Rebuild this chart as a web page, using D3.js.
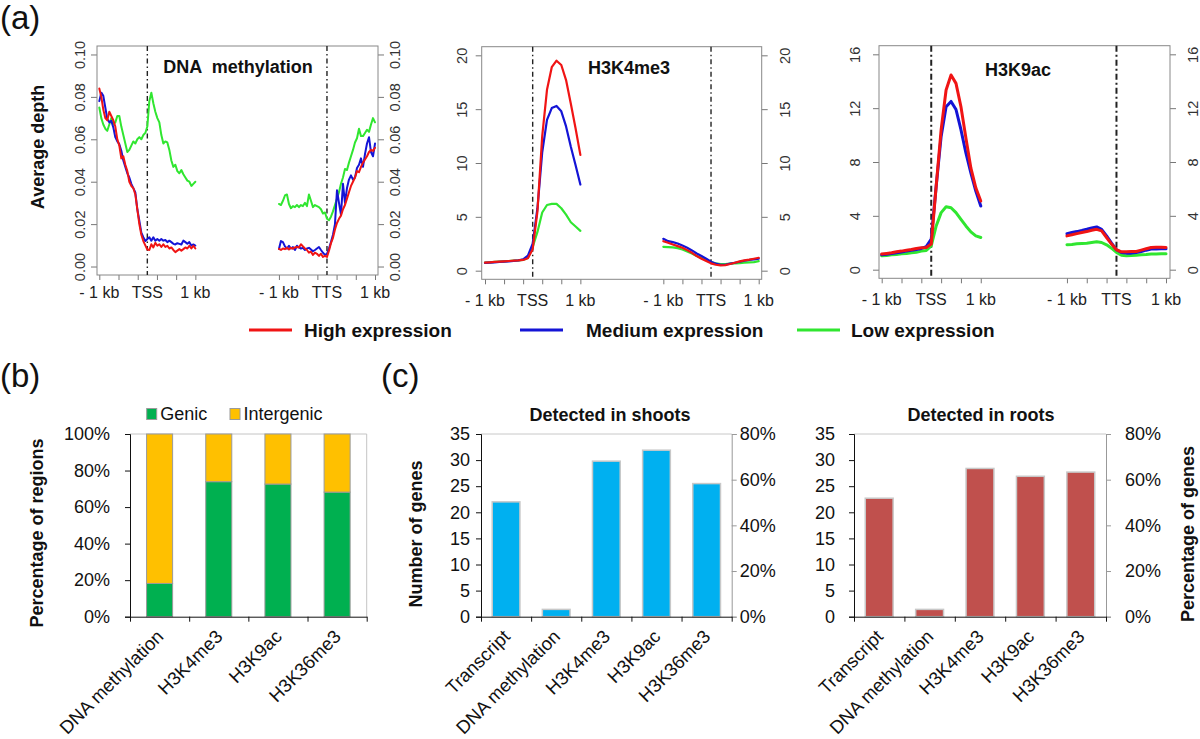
<!DOCTYPE html>
<html><head><meta charset="utf-8">
<script src="https://cdn.jsdelivr.net/npm/d3@7"></script>
<style>
body{margin:0;background:#fff;}
svg{display:block;}
text{font-family:"Liberation Sans",Arial,Helvetica,sans-serif;}
</style>
</head><body>
<svg id="c" width="1200" height="739"></svg>
<script>
// ---------------- DATA ----------------
// Panel (a): average depth profiles, -1 kb .. +1 kb around TSS and TTS
const methHighTSS = [0.084,0.080,0.074,0.070,0.069,0.073,0.071,0.069,0.066,0.060,0.057,0.051,0.052,0.048,0.045,0.040,0.038,0.037,0.034,0.027,0.020,0.015,0.012,0.010,0.008,0.0078,0.0105,0.009,0.0112,0.0098,0.0105,0.0092,0.0105,0.0092,0.0098,0.0085,0.009,0.0078,0.0068,0.0075,0.0082,0.0075,0.0082,0.009,0.0085,0.0098,0.0085,0.0098,0.0085];
const methMedTSS = [0.078,0.082,0.0805,0.075,0.0695,0.068,0.0687,0.0656,0.061,0.059,0.0577,0.0546,0.050,0.047,0.044,0.042,0.039,0.037,0.035,0.027,0.0216,0.016,0.0138,0.012,0.013,0.0138,0.0122,0.0138,0.0122,0.013,0.0122,0.013,0.0122,0.0125,0.0115,0.0122,0.0115,0.0107,0.0104,0.011,0.0107,0.0104,0.0122,0.0115,0.0107,0.0115,0.0099,0.0104,0.0099];
const methLowTSS = [0.075,0.070,0.067,0.065,0.064,0.067,0.070,0.067,0.068,0.071,0.071,0.066,0.062,0.058,0.054,0.055,0.057,0.059,0.058,0.060,0.061,0.060,0.062,0.063,0.066,0.078,0.082,0.077,0.073,0.070,0.068,0.062,0.058,0.059,0.0585,0.055,0.050,0.047,0.048,0.045,0.044,0.0455,0.0435,0.042,0.0405,0.040,0.038,0.039,0.040];
const methHighTTS = [0.0083,0.0078,0.0085,0.0082,0.0088,0.0080,0.0088,0.0084,0.0090,0.0092,0.0090,0.0105,0.0095,0.0085,0.0078,0.0065,0.0070,0.0055,0.0065,0.0060,0.0050,0.0060,0.0045,0.0050,0.0045,0.0075,0.0110,0.0135,0.0175,0.0205,0.0225,0.0240,0.0270,0.0290,0.0320,0.0350,0.0380,0.0400,0.0420,0.0450,0.0445,0.0470,0.0490,0.0505,0.0520,0.0540,0.0550,0.0545,0.0560];
const methMedTTS = [0.0083,0.0120,0.0115,0.0095,0.0085,0.0098,0.0085,0.0092,0.0078,0.0098,0.0090,0.0085,0.0088,0.0078,0.0085,0.0088,0.0080,0.0072,0.0078,0.0085,0.0092,0.0078,0.0065,0.0055,0.0060,0.0085,0.0115,0.0150,0.0200,0.0360,0.0300,0.0245,0.0390,0.0300,0.0370,0.0410,0.0430,0.0410,0.0420,0.0465,0.0480,0.0510,0.0470,0.0530,0.0580,0.0610,0.0540,0.0520,0.0580];
const methLowTTS = [0.0295,0.0290,0.0310,0.0335,0.0340,0.0295,0.0275,0.0285,0.0280,0.0290,0.0280,0.0290,0.0285,0.0300,0.0285,0.0340,0.0310,0.0280,0.0290,0.0285,0.0280,0.0270,0.0250,0.0255,0.0225,0.0218,0.0235,0.0260,0.0290,0.0320,0.0350,0.0390,0.0420,0.0460,0.0455,0.0490,0.0520,0.0550,0.0585,0.0605,0.0650,0.0615,0.0615,0.0630,0.0645,0.0635,0.0670,0.0700,0.0680];

const k4HighTSS = [0.74,0.78,0.81,0.84,0.87,0.90,0.93,0.96,1.0,1.15,2.0,5.5,12.5,16.8,18.9,19.5,19.1,17.7,15.5,13.2,10.75];
const k4MedTSS  = [0.72,0.75,0.78,0.81,0.84,0.87,0.91,0.96,1.05,1.4,2.5,5.8,11.0,14.0,15.1,15.3,14.8,13.4,11.5,9.8,8.0];
const k4LowTSS  = [0.75,0.78,0.81,0.84,0.87,0.90,0.93,0.96,1.0,1.2,2.2,3.6,5.4,6.1,6.2,6.2,5.8,5.2,4.5,4.1,3.7];
const k4HighTTS = [2.74,2.6,2.43,2.28,2.13,1.91,1.66,1.36,1.11,0.89,0.68,0.55,0.49,0.52,0.62,0.74,0.86,0.96,1.02,1.11,1.2];
const k4MedTTS  = [2.96,2.74,2.65,2.53,2.34,2.13,1.88,1.6,1.36,1.11,0.83,0.65,0.55,0.55,0.65,0.74,0.83,0.92,0.99,1.05,1.11];
const k4LowTTS  = [2.22,2.19,2.16,2.1,1.97,1.79,1.6,1.36,1.17,0.99,0.8,0.68,0.62,0.62,0.65,0.68,0.71,0.74,0.77,0.8,0.89];

const k9HighTSS = [1.16,1.21,1.26,1.33,1.38,1.45,1.50,1.58,1.63,1.65,1.9,6.2,10.4,13.35,14.46,13.84,12.1,9.78,7.56,6.08,5.1];
const k9MedTSS  = [1.11,1.15,1.2,1.26,1.32,1.38,1.44,1.5,1.58,1.72,2.27,6.2,9.9,12.1,12.5,11.9,10.4,8.67,7.2,5.84,4.73];
const k9LowTSS  = [1.03,1.06,1.11,1.13,1.18,1.2,1.26,1.3,1.38,1.43,1.77,3.25,4.24,4.68,4.6,4.24,3.74,3.25,2.81,2.51,2.39];
const k9HighTTS = [2.51,2.59,2.68,2.76,2.83,2.93,3.0,2.88,2.39,1.9,1.48,1.33,1.33,1.35,1.35,1.45,1.55,1.65,1.67,1.67,1.65];
const k9MedTTS  = [2.68,2.76,2.83,2.91,3.0,3.1,3.18,3.0,2.51,1.97,1.48,1.28,1.23,1.23,1.28,1.35,1.45,1.53,1.53,1.55,1.55];
const k9LowTTS  = [1.85,1.87,1.92,1.95,1.97,2.02,2.07,2.02,1.85,1.6,1.28,1.08,1.03,1.06,1.08,1.11,1.13,1.16,1.16,1.18,1.18];

const methTicks = [0, 0.02, 0.04, 0.06, 0.08, 0.10];
const k4Ticks = [0, 5, 10, 15, 20];
const k9Ticks = [0, 4, 8, 12, 16];
const expressionLevels = ["High expression", "Medium expression", "Low expression"];

// Panel (b)
const regionCats = ["DNA methylation", "H3K4me3", "H3K9ac", "H3K36me3"];
const genicPct = [18.2, 73.9, 72.6, 68.2];
const intergenicPct = [81.8, 26.1, 27.4, 31.8];
const pctTicks = [0, 20, 40, 60, 80, 100];

// Panel (c)
const geneCats = ["Transcript", "DNA methylation", "H3K4me3", "H3K9ac", "H3K36me3"];
const shootsGenes = [22.0, 1.4, 29.8, 31.9, 25.5];
const rootsGenes = [22.7, 1.4, 28.4, 26.9, 27.7];
const geneTicks = [0, 5, 10, 15, 20, 25, 30, 35];
const genePctTicks = [0, 20, 40, 60, 80];

// ---------------- DRAWING ----------------
const svg = d3.select("#c");
const FONT = '"Liberation Sans",Arial,Helvetica,sans-serif';
const RED = "#f01414", BLUE = "#1414d6", GREEN = "#30e630";
const GAP = 1740;              // plotted gap between TSS and TTS windows (bp units)
const TTS0 = 1000 + GAP + 1000; // centre of the TTS window

function panelLabel(t, x, y) {
  svg.append("text").attr("x", x).attr("y", y).attr("font-size", 33).attr("fill", "#111").text(t);
}

function drawProfile(o) {
  const g = svg.append("g");
  const x = d3.scaleLinear().domain([-1000, TTS0 + 1000]).range([o.x0, o.x1]);
  const yMin = d3.min(o.yTicks), yMax = d3.max(o.yTicks), pad = (yMax - yMin) * 0.04;
  const y = d3.scaleLinear().domain([yMin - pad, yMax + pad]).range([o.bottom, o.top]);

  const tickU = [-1000, -600, -200, 200, 600, 1000].flatMap(p => [p, p + TTS0]);
  const ax = g.append("g").attr("transform", `translate(0,${o.bottom})`)
    .call(d3.axisBottom(x).tickValues(tickU).tickSize(5).tickFormat(""));
  ax.select(".domain").remove();
  ax.selectAll("line").attr("stroke", "#777");

  const labU = [-1000, 0, 1000, TTS0 - 1000, TTS0, TTS0 + 1000];
  const labT = ["- 1 kb", "TSS", "1 kb", "- 1 kb", "TTS", "1 kb"];
  g.selectAll("text.xl").data(labU).join("text").attr("class", "xl")
    .attr("x", d => x(d)).attr("y", o.bottom + o.xLabOff)
    .attr("text-anchor", "middle").attr("font-size", 16).attr("fill", "#222")
    .text((d, i) => labT[i]);

  const al = g.append("g").attr("transform", `translate(${o.left},0)`)
    .call(d3.axisLeft(y).tickValues(o.yTicks).tickSize(6).tickFormat(o.fmt));
  al.select(".domain").remove();
  al.selectAll("line").attr("stroke", "#777");
  al.selectAll("text").attr("transform", "rotate(-90)").attr("x", 0).attr("y", -o.lOff)
    .attr("dy", 0).attr("text-anchor", "middle").attr("font-size", 14.5).attr("fill", "#333")
    .attr("font-family", FONT);
  const ar = g.append("g").attr("transform", `translate(${o.right},0)`)
    .call(d3.axisRight(y).tickValues(o.yTicks).tickSize(6).tickFormat(o.fmt));
  ar.select(".domain").remove();
  ar.selectAll("line").attr("stroke", "#777");
  ar.selectAll("text").attr("transform", "rotate(-90)").attr("x", 0).attr("y", o.rOff)
    .attr("dy", 0).attr("text-anchor", "middle").attr("font-size", 14.5).attr("fill", "#333")
    .attr("font-family", FONT);

  g.append("rect").attr("x", o.left).attr("y", o.top).attr("width", o.right - o.left)
    .attr("height", o.bottom - o.top).attr("fill", "none").attr("stroke", "#888").attr("stroke-width", 1);

  [0, TTS0].forEach(u => {
    g.append("line").attr("x1", x(u)).attr("x2", x(u)).attr("y1", o.top).attr("y2", o.bottom)
      .attr("stroke", "#222").attr("stroke-width", o.dashW).attr("stroke-dasharray", o.dash);
  });

  const line = d3.line().x(d => x(d[0])).y(d => y(d[1]));
  o.series.forEach(s => {
    [[s.tss, 0], [s.tts, TTS0]].forEach(([arr, off]) => {
      const n = arr.length;
      const pts = arr.map((v, i) => [off - 1000 + i * 2000 / (n - 1), v]);
      g.append("path").attr("d", line(pts)).attr("fill", "none").attr("stroke", s.color)
        .attr("stroke-width", o.lw).attr("stroke-linejoin", "round").attr("stroke-linecap", "round");
    });
  });

  g.append("text").attr("x", o.titleX).attr("y", o.titleY).attr("text-anchor", "middle")
    .style("white-space", "pre")
    .attr("font-size", 18).attr("font-weight", "bold").attr("fill", "#111").text(o.title);
}

panelLabel("(a)", 0, 29);

drawProfile({
  left: 97, right: 378, top: 46, bottom: 275, x0: 99.3, x1: 375,
  yTicks: methTicks, fmt: d3.format(".2f"), lOff: 12, rOff: 22, xLabOff: 23,
  dash: "5,3,1.5,3", dashW: 1.4, lw: 2,
  title: "DNA  methylation", titleX: 238, titleY: 73,
  series: [
    {color: GREEN, tss: methLowTSS, tts: methLowTTS},
    {color: BLUE, tss: methMedTSS, tts: methMedTTS},
    {color: RED, tss: methHighTSS, tts: methHighTTS}
  ]
});
drawProfile({
  left: 481.7, right: 761.7, top: 46.7, bottom: 279.3, x0: 485, x1: 758.7,
  yTicks: k4Ticks, fmt: d3.format("d"), lOff: 15, rOff: 28, xLabOff: 27,
  dash: "5,3,1.5,3", dashW: 1.4, lw: 2.2,
  title: "H3K4me3", titleX: 629, titleY: 74,
  series: [
    {color: GREEN, tss: k4LowTSS, tts: k4LowTTS},
    {color: BLUE, tss: k4MedTSS, tts: k4MedTTS},
    {color: RED, tss: k4HighTSS, tts: k4HighTTS}
  ]
});
drawProfile({
  left: 879, right: 1170, top: 45.7, bottom: 278.3, x0: 881.7, x1: 1166,
  yTicks: k9Ticks, fmt: d3.format("d"), lOff: 19, rOff: 28, xLabOff: 27,
  dash: "6,3,2,3", dashW: 2, lw: 3,
  title: "H3K9ac", titleX: 1018, titleY: 76,
  series: [
    {color: GREEN, tss: k9LowTSS, tts: k9LowTTS},
    {color: BLUE, tss: k9MedTSS, tts: k9MedTTS},
    {color: RED, tss: k9HighTSS, tts: k9HighTTS}
  ]
});

svg.append("text").attr("transform", "translate(44,147) rotate(-90)").attr("text-anchor", "middle")
  .attr("font-size", 18).attr("font-weight", "bold").attr("fill", "#111").text("Average depth");

const legX = [249, 520, 797];
const legC = [RED, BLUE, GREEN];
const legT = [304, 586, 851];
expressionLevels.forEach((t, i) => {
  svg.append("line").attr("x1", legX[i]).attr("x2", legX[i] + 43).attr("y1", 330).attr("y2", 330)
    .attr("stroke", legC[i]).attr("stroke-width", 3);
  svg.append("text").attr("x", legT[i]).attr("y", 337)
    .attr("font-size", 19).attr("font-weight", "bold").attr("fill", "#111").text(t);
});

// ---------------- Panel (b) ----------------
panelLabel("(b)", 0, 387);
{
  const L = 130, R = 366.7, T = 434, B = 616.7;
  const x = d3.scaleBand().domain(regionCats).range([L, R]).paddingInner(0.56).paddingOuter(0.28);
  const y = d3.scaleLinear().domain([0, 100]).range([B, T]);
  const g = svg.append("g");
  g.append("line").attr("x1", L).attr("x2", R).attr("y1", T).attr("y2", T).attr("stroke", "#c4c4c4");
  g.append("line").attr("x1", R).attr("x2", R).attr("y1", T).attr("y2", B).attr("stroke", "#c4c4c4");
  g.selectAll("rect.gen").data(regionCats).join("rect").attr("class", "gen")
    .attr("x", d => x(d)).attr("width", x.bandwidth())
    .attr("y", (d, i) => y(genicPct[i])).attr("height", (d, i) => y(0) - y(genicPct[i]))
    .attr("fill", "#00b050").attr("stroke", "#9a9a9a").attr("stroke-width", 1);
  g.selectAll("rect.int").data(regionCats).join("rect").attr("class", "int")
    .attr("x", d => x(d)).attr("width", x.bandwidth())
    .attr("y", (d, i) => y(genicPct[i] + intergenicPct[i])).attr("height", (d, i) => y(genicPct[i]) - y(genicPct[i] + intergenicPct[i]))
    .attr("fill", "#ffc000").attr("stroke", "#9a9a9a").attr("stroke-width", 1);
  const ay = g.append("g").attr("transform", `translate(${L},0)`)
    .call(d3.axisLeft(y).tickValues(pctTicks).tickSize(5).tickPadding(15).tickFormat(d => d + "%"));
  ay.selectAll("text").attr("font-size", 18).attr("fill", "#111").attr("font-family", FONT);
  ay.selectAll("line,path").attr("stroke", "#111");
  const xb = d3.scaleLinear().domain([0, regionCats.length]).range([L, R]);
  const axb = g.append("g").attr("transform", `translate(0,${B})`)
    .call(d3.axisBottom(xb).ticks(regionCats.length).tickSize(5).tickSizeOuter(0).tickFormat(""));
  axb.selectAll("line,path").attr("stroke", "#111");
  g.selectAll("text.cat").data(regionCats).join("text").attr("class", "cat")
    .attr("transform", d => `translate(${x(d) + x.bandwidth() / 2 + 5},${B + 21}) rotate(-45)`)
    .attr("text-anchor", "end").attr("font-size", 18.5).attr("fill", "#111").text(d => d);
  g.append("text").attr("transform", `translate(43,533) rotate(-90)`).attr("text-anchor", "middle")
    .attr("font-size", 18).attr("font-weight", "bold").attr("fill", "#111").text("Percentage of regions");
  const lg = [["Genic", "#00b050", 146.7], ["Intergenic", "#ffc000", 230]];
  lg.forEach(([t, c, lx]) => {
    g.append("rect").attr("x", lx).attr("y", 408.5).attr("width", 10).attr("height", 11)
      .attr("fill", c).attr("stroke", "#9a9a9a");
    g.append("text").attr("x", lx + 13.5).attr("y", 420).attr("font-size", 18).attr("fill", "#111").text(t);
  });
}

// ---------------- Panel (c) ----------------
panelLabel("(c)", 381, 387);
function drawGenes(o) {
  const T = 434, B = 616.7;
  const g = svg.append("g");
  const x = d3.scaleBand().domain(geneCats).range([o.L, o.R]).paddingInner(0.447).paddingOuter(0.2235);
  const y = d3.scaleLinear().domain([0, 35]).range([B, T]);
  const yp = d3.scaleLinear().domain([0, 80]).range([B, T]);
  g.append("line").attr("x1", o.L).attr("x2", o.R).attr("y1", T).attr("y2", T).attr("stroke", "#c8c8c8");
  g.selectAll("rect").data(geneCats).join("rect")
    .attr("x", d => x(d)).attr("width", x.bandwidth())
    .attr("y", (d, i) => y(o.values[i])).attr("height", (d, i) => y(0) - y(o.values[i]))
    .attr("fill", o.color).attr("stroke", "#c8c8c8").attr("stroke-width", 1.5);
  const ar = g.append("g").attr("transform", `translate(${o.R},0)`)
    .call(d3.axisRight(yp).tickValues(genePctTicks).tickSize(5).tickPadding(o.rPad).tickFormat(d => d + "%"));
  ar.selectAll("line,path").attr("stroke", "#999");
  ar.selectAll("text").attr("font-size", 18).attr("fill", "#111").attr("font-family", FONT);
  const al = g.append("g").attr("transform", `translate(${o.L},0)`)
    .call(d3.axisLeft(y).tickValues(geneTicks).tickSize(5).tickPadding(o.lPad).tickFormat(d3.format("d")));
  al.selectAll("line,path").attr("stroke", "#111");
  al.selectAll("text").attr("font-size", 18).attr("fill", "#111").attr("font-family", FONT);
  const xb = d3.scaleLinear().domain([0, geneCats.length]).range([o.L, o.R]);
  const axb = g.append("g").attr("transform", `translate(0,${B})`)
    .call(d3.axisBottom(xb).ticks(geneCats.length).tickSize(5).tickSizeOuter(0).tickFormat(""));
  axb.selectAll("line,path").attr("stroke", "#111");
  g.selectAll("text.cat").data(geneCats).join("text").attr("class", "cat")
    .attr("transform", d => `translate(${x(d) + x.bandwidth() / 2 + 5},${B + 21}) rotate(-45)`)
    .attr("text-anchor", "end").attr("font-size", 18.5).attr("fill", "#111").text(d => d);
  g.append("text").attr("x", o.titleX).attr("y", 421).attr("text-anchor", "middle")
    .attr("font-size", 18).attr("font-weight", "bold").attr("fill", "#111").text(o.title);
}
drawGenes({L: 481, R: 731.7, values: shootsGenes, color: "#00b0f0", lPad: 6, rPad: 3, title: "Detected in shoots", titleX: 610});
drawGenes({L: 854, R: 1106, values: rootsGenes, color: "#c0504d", lPad: 14, rPad: 14, title: "Detected in roots", titleX: 981});

svg.append("text").attr("transform", "translate(422,534) rotate(-90)").attr("text-anchor", "middle")
  .attr("font-size", 18).attr("font-weight", "bold").attr("fill", "#111").text("Number of genes");
svg.append("text").attr("transform", "translate(1194,534) rotate(-90)").attr("text-anchor", "middle")
  .attr("font-size", 18).attr("font-weight", "bold").attr("fill", "#111").text("Percentage of genes");
</script>
</body></html>
